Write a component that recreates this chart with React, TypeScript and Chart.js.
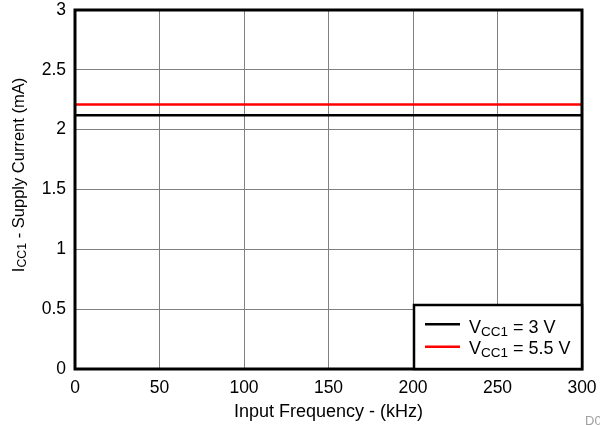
import React, { useEffect, useRef } from "react";
import { Chart, registerables } from "chart.js";

Chart.register(...registerables);

const frequencies = [0, 50, 100, 150, 200, 250, 300];
const vcc3V = [2.12, 2.12, 2.12, 2.12, 2.12, 2.12, 2.12];
const vcc55V = [2.21, 2.21, 2.21, 2.21, 2.21, 2.21, 2.21];
const seriesLabels = [
  { main: "V", sub: "CC1", rest: " = 3 V", color: "#000000" },
  { main: "V", sub: "CC1", rest: " = 5.5 V", color: "#ff0000" },
];

const FONT = "Liberation Sans, Arial, sans-serif";

function drawSubText(
  ctx: CanvasRenderingContext2D,
  x: number,
  y: number,
  main: string,
  sub: string,
  rest: string,
  size: number
) {
  ctx.textBaseline = "alphabetic";
  ctx.textAlign = "left";
  ctx.font = `${size}px ${FONT}`;
  ctx.fillText(main, x, y);
  let cx = x + ctx.measureText(main).width;
  ctx.font = `${size * 0.75}px ${FONT}`;
  ctx.fillText(sub, cx, y + size * 0.15);
  cx += ctx.measureText(sub).width;
  ctx.font = `${size}px ${FONT}`;
  ctx.fillText(rest, cx, y);
}

function subTextWidth(ctx: CanvasRenderingContext2D, main: string, sub: string, rest: string, size: number) {
  ctx.font = `${size}px ${FONT}`;
  const w1 = ctx.measureText(main).width;
  const w3 = ctx.measureText(rest).width;
  ctx.font = `${size * 0.75}px ${FONT}`;
  const w2 = ctx.measureText(sub).width;
  return w1 + w2 + w3;
}

const decorPlugin = {
  id: "decor",
  afterDraw(chart: any) {
    const ctx: CanvasRenderingContext2D = chart.ctx;
    const a = chart.chartArea;
    ctx.save();
    // plot border
    ctx.strokeStyle = "#000";
    ctx.lineWidth = 3;
    ctx.strokeRect(a.left, a.top, a.right - a.left, a.bottom - a.top);

    // legend
    const lx = 414, ly = 305, lw = a.right - 414, lh = a.bottom - 305;
    ctx.fillStyle = "#fff";
    ctx.fillRect(lx, ly, lw, lh);
    ctx.lineWidth = 2.5;
    ctx.strokeRect(lx, ly, lw, lh);
    const lineYs = [324.3, 346.7];
    const baseYs = [333, 354];
    seriesLabels.forEach((s, i) => {
      ctx.strokeStyle = s.color;
      ctx.lineWidth = 2.5;
      ctx.beginPath();
      ctx.moveTo(425, lineYs[i]);
      ctx.lineTo(460, lineYs[i]);
      ctx.stroke();
      ctx.fillStyle = "#000";
      drawSubText(ctx, 469, baseYs[i], s.main, s.sub, s.rest, 18);
    });

    // y title
    ctx.fillStyle = "#000";
    const size = 16.5;
    const yRest = " - Supply Current (mA)";
    const total = subTextWidth(ctx, "I", "CC1", yRest, size);
    ctx.translate(24, 175);
    ctx.rotate(-Math.PI / 2);
    drawSubText(ctx, -total / 2, 0, "I", "CC1", yRest, size);
    ctx.restore();

    ctx.save();
    ctx.fillStyle = "#000";
    ctx.font = `18px ${FONT}`;
    ctx.textAlign = "center";
    ctx.textBaseline = "alphabetic";
    ctx.fillText("Input Frequency - (kHz)", (a.left + a.right) / 2, 417);
    ctx.fillStyle = "#a0a0a0";
    ctx.font = `13px ${FONT}`;
    ctx.textAlign = "left";
    ctx.fillText("D001", 585, 425);
    ctx.restore();
  },
};

export default function App() {
  const ref = useRef<HTMLCanvasElement>(null);
  useEffect(() => {
    if (!ref.current) return;
    const chart = new Chart(ref.current, {
      type: "line",
      data: {
        labels: frequencies,
        datasets: [
          {
            data: frequencies.map((f, i) => ({ x: f, y: vcc3V[i] })),
            borderColor: "#000",
            borderWidth: 2.5,
            pointRadius: 0,
          },
          {
            data: frequencies.map((f, i) => ({ x: f, y: vcc55V[i] })),
            borderColor: "#ff0000",
            borderWidth: 2.5,
            pointRadius: 0,
          },
        ],
      },
      options: {
        animation: false,
        responsive: false,
        devicePixelRatio: 1,
        layout: { padding: { top: 10, right: 18, left: 0, bottom: 0 } },
        plugins: { legend: { display: false }, tooltip: { enabled: false } },
        scales: {
          x: {
            type: "linear",
            min: 0,
            max: 300,
            ticks: {
              stepSize: 50,
              color: "#000",
              font: { family: FONT, size: 17.5 },
              padding: 9,
              maxRotation: 0,
            },
            grid: { color: "#808080", lineWidth: 1, drawTicks: false },
            border: { display: false },
            afterFit: (s: any) => {
              s.height = 425 - 369;
              s.paddingLeft = 0;
              s.paddingRight = 0;
            },
          },
          y: {
            min: 0,
            max: 3,
            ticks: {
              stepSize: 0.5,
              color: "#000",
              font: { family: FONT, size: 17.5 },
              padding: 9,
              callback: (v: any) => String(v),
            },
            grid: { color: "#808080", lineWidth: 1, drawTicks: false },
            border: { display: false },
            afterFit: (s: any) => {
              s.width = 75;
              s.paddingTop = 0;
              s.paddingBottom = 0;
            },
          },
        },
      },
      plugins: [decorPlugin],
    });
    return () => chart.destroy();
  }, []);
  return (
    <div style={{ position: "fixed", left: 0, top: 0, width: 600, height: 425, background: "#fff" }}>
      <canvas ref={ref} width={600} height={425} style={{ display: "block" }} />
    </div>
  );
}
